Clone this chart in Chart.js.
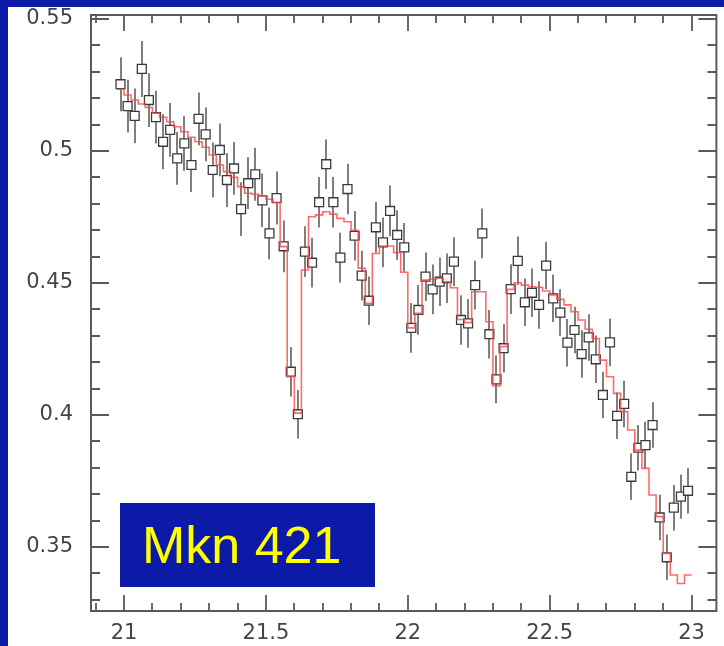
<!DOCTYPE html>
<html>
<head>
<meta charset="utf-8">
<script src="https://cdn.jsdelivr.net/npm/chart.js@4.4.0/dist/chart.umd.min.js"></script>
<style>
  html, body { margin: 0; padding: 0; background: #0b1aa7; }
  body { width: 724px; height: 646px; position: relative; overflow: hidden; }
  #panel { position: absolute; left: 8px; top: 7px; width: 716px; height: 639px; background: #fff; }
  #spectrum { display: block; }
  #label {
    position: absolute; left: 112px; top: 496px; width: 233px; height: 84px;
    padding-left: 22px; background: #0b1aa7; color: #ffff00;
    font: 52px "Liberation Sans", Arial, sans-serif; line-height: 84px; white-space: nowrap;
  }
</style>
</head>
<body>
<div id="panel">
  <canvas id="spectrum" width="716" height="639"></canvas>
  <div id="label">Mkn 421</div>
</div>
<script>
// bin centres (Angstrom)
const wavelength = [
  20.9875, 21.0125, 21.0375, 21.0625, 21.0875, 21.1125, 21.1375, 21.1625, 21.1875, 21.2125,
  21.2375, 21.2625, 21.2875, 21.3125, 21.3375, 21.3625, 21.3875, 21.4125, 21.4375, 21.4625,
  21.4875, 21.5125, 21.5375, 21.5625, 21.5875, 21.6125, 21.6375, 21.6625, 21.6875, 21.7125,
  21.7375, 21.7625, 21.7875, 21.8125, 21.8375, 21.8625, 21.8875, 21.9125, 21.9375, 21.9625,
  21.9875, 22.0125, 22.0375, 22.0625, 22.0875, 22.1125, 22.1375, 22.1625, 22.1875, 22.2125,
  22.2375, 22.2625, 22.2875, 22.3125, 22.3375, 22.3625, 22.3875, 22.4125, 22.4375, 22.4625,
  22.4875, 22.5125, 22.5375, 22.5625, 22.5875, 22.6125, 22.6375, 22.6625, 22.6875, 22.7125,
  22.7375, 22.7625, 22.7875, 22.8125, 22.8375, 22.8625, 22.8875, 22.9125, 22.9375, 22.9625,
  22.9875
];

const flux = [
  0.5253, 0.5170, 0.5133, 0.5311, 0.5193, 0.5128, 0.5035, 0.5080, 0.4972, 0.5029,
  0.4947, 0.5122, 0.5063, 0.4928, 0.5004, 0.4890, 0.4934, 0.4780, 0.4878, 0.4912,
  0.4813, 0.4688, 0.4822, 0.4639, 0.4164, 0.4003, 0.4619, 0.4577, 0.4806, 0.4950,
  0.4806, 0.4596, 0.4856, 0.4679, 0.4528, 0.4433, 0.4711, 0.4654, 0.4773, 0.4682,
  0.4635, 0.4330, 0.4398, 0.4524, 0.4476, 0.4505, 0.4518, 0.4581, 0.4360, 0.4347,
  0.4492, 0.4688, 0.4306, 0.4135, 0.4253, 0.4477, 0.4584, 0.4427, 0.4463, 0.4417,
  0.4566, 0.4442, 0.4388, 0.4274, 0.4322, 0.4231, 0.4294, 0.4211, 0.4076, 0.4275,
  0.3997, 0.4042, 0.3766, 0.3876, 0.3886, 0.3962, 0.3612, 0.3461, 0.3649, 0.3691,
  0.3713
];

const fluxErr = [
  0.0102, 0.0100, 0.0104, 0.0106, 0.0102, 0.0100, 0.0104, 0.0102, 0.0100, 0.0104,
  0.0102, 0.0100, 0.0102, 0.0104, 0.0100, 0.0102, 0.0100, 0.0102, 0.0098, 0.0100,
  0.0102, 0.0098, 0.0100, 0.0098, 0.0094, 0.0092, 0.0096, 0.0094, 0.0096, 0.0094,
  0.0096, 0.0094, 0.0096, 0.0094, 0.0094, 0.0092, 0.0096, 0.0094, 0.0096, 0.0094,
  0.0092, 0.0094, 0.0094, 0.0092, 0.0094, 0.0092, 0.0094, 0.0092, 0.0094, 0.0092,
  0.0092, 0.0094, 0.0092, 0.0090, 0.0092, 0.0094, 0.0092, 0.0090, 0.0092, 0.0090,
  0.0090, 0.0090, 0.0088, 0.0090, 0.0088, 0.0090, 0.0088, 0.0090, 0.0088, 0.0090,
  0.0088, 0.0088, 0.0088, 0.0086, 0.0088, 0.0086, 0.0086, 0.0086, 0.0086, 0.0084,
  0.0086
];

// model histogram: left bin edges (+ final right edge)
const modelEdges = [
  20.975, 21.000, 21.025, 21.050, 21.075, 21.100, 21.125, 21.150, 21.175, 21.200,
  21.225, 21.250, 21.275, 21.300, 21.325, 21.350, 21.375, 21.400, 21.425, 21.450,
  21.475, 21.500, 21.525, 21.550, 21.575, 21.600, 21.625, 21.650, 21.675, 21.700,
  21.725, 21.750, 21.775, 21.800, 21.825, 21.850, 21.875, 21.900, 21.925, 21.950,
  21.975, 22.000, 22.025, 22.050, 22.075, 22.100, 22.125, 22.150, 22.175, 22.200,
  22.225, 22.250, 22.275, 22.300, 22.325, 22.350, 22.375, 22.400, 22.425, 22.450,
  22.475, 22.500, 22.525, 22.550, 22.575, 22.600, 22.625, 22.650, 22.675, 22.700,
  22.725, 22.750, 22.775, 22.800, 22.825, 22.850, 22.875, 22.900, 22.925, 22.950,
  22.975, 23.000
];

const model = [
  0.5234, 0.5212, 0.5193, 0.5178, 0.5165, 0.5143, 0.5128, 0.5111, 0.5092, 0.5073,
  0.5052, 0.5035, 0.5014, 0.4985, 0.4947, 0.4922, 0.4900, 0.4865, 0.4840, 0.4836,
  0.4830, 0.4817, 0.4804, 0.4638, 0.4145, 0.4007, 0.4549, 0.4751, 0.4758, 0.4770,
  0.4761, 0.4745, 0.4732, 0.4700, 0.4556, 0.4423, 0.4612, 0.4640, 0.4640, 0.4615,
  0.4541, 0.4330, 0.4385, 0.4511, 0.4514, 0.4518, 0.4505, 0.4482, 0.4362, 0.4350,
  0.4467, 0.4467, 0.4353, 0.4110, 0.4259, 0.4476, 0.4501, 0.4492, 0.4486, 0.4484,
  0.4470, 0.4455, 0.4438, 0.4417, 0.4391, 0.4360, 0.4325, 0.4290, 0.4208, 0.4145,
  0.4082, 0.4013, 0.3943, 0.3867, 0.3798, 0.3697, 0.3615, 0.3476, 0.3394, 0.3362,
  0.3394, 0.3394
];

const xTickLabels = [21, 21.5, 22, 22.5, 23];
const yTickLabels = [0.35, 0.4, 0.45, 0.5, 0.55];

const tickFont = { family: '"DejaVu Sans", sans-serif', size: 21 };

const errorBars = {
  id: 'errorBars',
  beforeDatasetsDraw(chart) {
    const { ctx, scales: { x, y } } = chart;
    ctx.save();
    ctx.strokeStyle = '#7f7f7f';
    ctx.lineWidth = 2;
    wavelength.forEach((w, i) => {
      const px = Math.round(x.getPixelForValue(w));
      ctx.beginPath();
      ctx.moveTo(px, y.getPixelForValue(flux[i] - fluxErr[i]));
      ctx.lineTo(px, y.getPixelForValue(flux[i] + fluxErr[i]));
      ctx.stroke();
    });
    ctx.restore();
  }
};

// boxed frame with inward ticks on all four sides
const frame = {
  id: 'frame',
  afterDraw(chart) {
    const { ctx, chartArea: a, scales: { x, y } } = chart;
    ctx.save();
    ctx.strokeStyle = '#5a5a5a';
    ctx.lineWidth = 2;
    ctx.strokeRect(a.left, a.top, a.right - a.left, a.bottom - a.top);
    ctx.lineWidth = 1.8;
    ctx.beginPath();
    for (let k = 209; k <= 230; k++) {
      const px = Math.round(x.getPixelForValue(k / 10));
      const len = k % 5 === 0 ? 16 : 8;
      ctx.moveTo(px, a.bottom); ctx.lineTo(px, a.bottom - len);
      ctx.moveTo(px, a.top); ctx.lineTo(px, a.top + len);
    }
    for (let k = 33; k <= 55; k++) {
      const py = Math.round(y.getPixelForValue(k / 100));
      const len = k % 5 === 0 ? 18 : 9;
      ctx.moveTo(a.left, py); ctx.lineTo(a.left + len, py);
      ctx.moveTo(a.right, py); ctx.lineTo(a.right - len, py);
    }
    ctx.stroke();
    ctx.restore();
  }
};

new Chart(document.getElementById('spectrum'), {
  type: 'scatter',
  data: {
    datasets: [
      {
        type: 'line',
        data: modelEdges.map((w, i) => ({ x: w, y: model[i] })),
        stepped: 'before',
        borderColor: 'rgba(255, 70, 70, 0.8)',
        borderWidth: 1.6,
        pointRadius: 0,
        fill: false,
        order: 0
      },
      {
        data: wavelength.map((w, i) => ({ x: w, y: flux[i] })),
        pointStyle: 'rect',
        pointRadius: 6.3,
        borderColor: '#3a3a3a',
        borderWidth: 1.3,
        backgroundColor: '#ffffff',
        order: 1
      }
    ]
  },
  options: {
    responsive: false,
    devicePixelRatio: 1,
    animation: false,
    events: [],
    layout: { padding: { top: 8, right: 3, left: 0, bottom: 0 } },
    plugins: { legend: { display: false }, tooltip: { enabled: false } },
    scales: {
      x: {
        type: 'linear',
        min: 20.8835,
        max: 23.0875,
        grid: { display: false, drawTicks: false },
        border: { display: false },
        afterBuildTicks: s => { s.ticks = xTickLabels.map(v => ({ value: v })); },
        afterFit: s => { s.height = 35; s.paddingLeft = 0; s.paddingRight = 0; },
        ticks: { padding: 10, color: '#444', font: tickFont, maxRotation: 0, callback: v => String(v) }
      },
      y: {
        min: 0.32576,
        max: 0.55152,
        grid: { display: false, drawTicks: false },
        border: { display: false },
        afterBuildTicks: s => { s.ticks = yTickLabels.map(v => ({ value: v })); },
        afterFit: s => { s.width = 83; s.paddingTop = 0; s.paddingBottom = 0; },
        ticks: { padding: 18, color: '#444', font: tickFont, callback: v => String(v) }
      }
    }
  },
  plugins: [errorBars, frame]
});
</script>
</body>
</html>
